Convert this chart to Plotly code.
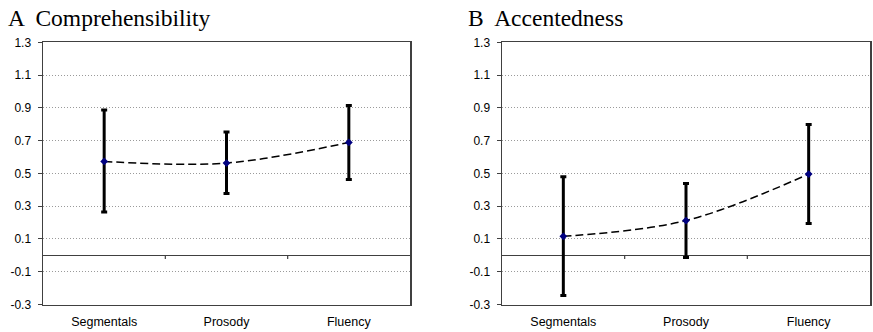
import plotly.graph_objects as go

categories = ["Segmentals", "Prosody", "Fluency"]

comp_mean = [0.573, 0.563, 0.689]
comp_upper = [0.887, 0.752, 0.915]
comp_lower = [0.264, 0.378, 0.463]

acc_mean = [0.116, 0.212, 0.496]
acc_upper = [0.480, 0.439, 0.798]
acc_lower = [-0.245, -0.013, 0.194]

y_ticks = [-0.3, -0.1, 0.1, 0.3, 0.5, 0.7, 0.9, 1.1, 1.3]
panel_titles = ["A  Comprehensibility", "B  Accentedness"]

W, H = 873, 332
fig = go.Figure()

panels = [
    (comp_mean, comp_upper, comp_lower, "x", "y", (43 / W, 410 / W)),
    (acc_mean, acc_upper, acc_lower, "x2", "y2", (502 / W, 870 / W)),
]
ydom = (1 - 304.5 / H, 1 - 42.3 / H)

for i, (m, up, lo, xa, ya, dom) in enumerate(panels):
    fig.add_trace(go.Scatter(
        x=list(range(len(categories))), y=m,
        mode="lines+markers",
        line=dict(color="black", width=1.5, dash="8px,4px", shape="spline", smoothing=1.0),
        marker=dict(symbol="diamond", size=6, color="#000080"),
        error_y=dict(type="data", symmetric=False,
                     array=[u - v for u, v in zip(up, m)],
                     arrayminus=[v - l for v, l in zip(m, lo)],
                     color="black", thickness=3, width=3),
        xaxis=xa, yaxis=ya, showlegend=False, hoverinfo="skip",
    ))
    sfx = "" if i == 0 else str(i + 1)
    fig.update_layout(**{
        "xaxis" + sfx: dict(
            domain=list(dom), range=[-0.5, 2.5],
            tickvals=list(range(len(categories))), ticktext=categories,
            showgrid=False, zeroline=False, showline=True, mirror=True,
            linecolor="#404040", linewidth=1.5, ticks="", anchor=ya,
            ticklabelstandoff=5,
            tickfont=dict(family="Liberation Sans, Arial", size=12.5, color="black"),
            automargin=False, fixedrange=True,
        ),
        "yaxis" + sfx: dict(
            domain=list(ydom), range=[-0.3, 1.3],
            tickvals=y_ticks, ticktext=[f"{v:.1f}" for v in y_ticks],
            showgrid=True, gridcolor="#9a9a9a", griddash="1px,2px", gridwidth=1,
            zeroline=True, zerolinecolor="#404040", zerolinewidth=1.2,
            showline=True, mirror=True, linecolor="#404040", linewidth=1.5,
            ticks="outside", ticklen=4, tickcolor="#404040",
            ticklabelstandoff=4,
            tickfont=dict(family="Liberation Sans, Arial", size=12, color="black"),
            anchor=xa, automargin=False, fixedrange=True,
        ),
    })
    # category separator tick marks on the zero line
    for b in [0.5, 1.5]:
        fig.add_shape(type="line", xref=xa, yref=ya, x0=b, x1=b, y0=0, y1=-0.022,
                      line=dict(color="#404040", width=1.2))
    fig.add_annotation(text=panel_titles[i], xref="paper", yref="paper",
                       x=(6 if i == 0 else 466) / W, y=1 - 3 / H,
                       xanchor="left", yanchor="top", showarrow=False,
                       font=dict(family="Liberation Serif, Times New Roman", size=23.5, color="black"))

fig.update_layout(
    width=W, height=H, margin=dict(l=0, r=0, t=0, b=0),
    paper_bgcolor="white", plot_bgcolor="white", hovermode=False,
)
fig.write_html("out.html", config={"displayModeBar": False, "staticPlot": True},
               post_script="document.body.style.margin='0';document.body.style.overflow='hidden';")
